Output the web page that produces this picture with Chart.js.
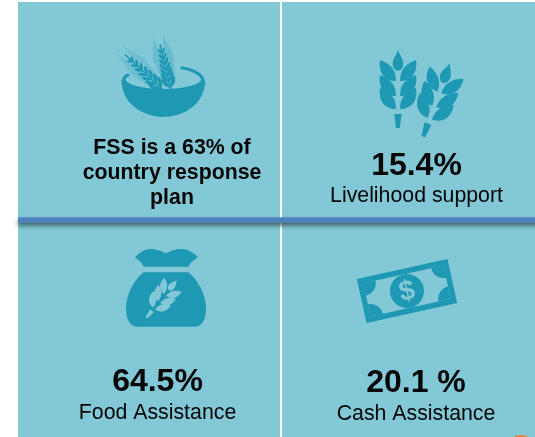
<!DOCTYPE html>
<html>
<head>
<meta charset="utf-8">
<title>FSS share of country response plan</title>
<script src="https://cdn.jsdelivr.net/npm/chart.js@4"></script>
<style>
  html, body { margin: 0; padding: 0; background: #fff; overflow: hidden; height: 437px; }
  canvas { display: block; }
</style>
</head>
<body>
<canvas id="myChart" width="544" height="438"></canvas>
<script>
const columns = ['Left', 'Right'];
const rows = ['Top', 'Bottom'];

const cardColumns = ['Left', 'Right', 'Left', 'Right'];
const cardRows = ['Top', 'Top', 'Bottom', 'Bottom'];
const shareValues = [63, 15.4, 64.5, 20.1];
const shareLabels = ['FSS is a 63% of', '15.4%', '64.5%', '20.1 %'];
const captions = ['country response|plan', 'Livelihood support', 'Food Assistance', 'Cash Assistance'];

const PANEL = '#82c8d7';
const ICON = '#1f98b3';
const FONT = '"Liberation Sans", Arial, sans-serif';

// ear of the plain wheat icon, tip at 0,0 pointing up
function plainEar(ctx) {
    ctx.beginPath();
    ctx.moveTo(0, 0);
    ctx.bezierCurveTo(1.5, 5, 5.5, 9, 5.3, 14);
    ctx.bezierCurveTo(5, 19, 2, 20.7, 0, 20.7);
    ctx.bezierCurveTo(-2, 20.7, -5, 19, -5.3, 14);
    ctx.bezierCurveTo(-5.5, 9, -1.5, 5, 0, 0);
    ctx.fill();
    for (const dy of [0, 15, 28]) {
        for (const side of [-1, 1]) {
            ctx.beginPath();
            ctx.moveTo(side * 18, 10 + dy);
            ctx.bezierCurveTo(side * 20, 23 + dy, side * 13, 31 + dy, side * 2.2, 31 + dy);
            ctx.bezierCurveTo(side * 1.5, 18 + dy, side * 11, 12.5 + dy, side * 18, 10 + dy);
            ctx.fill();
        }
    }
    ctx.beginPath();
    ctx.moveTo(-3.8, 64);
    ctx.lineTo(3.6, 64);
    ctx.lineTo(1.8, 78);
    ctx.lineTo(-2, 78);
    ctx.closePath();
    ctx.fill();
}

// ear of the bowl icon: slim kernels along an axis plus thin awns
function awnEar(ctx, x0, y0, x1, y1, pairs) {
    const len = Math.hypot(x1 - x0, y1 - y0);
    ctx.save();
    ctx.translate(x0, y0);
    ctx.rotate(Math.atan2(x1 - x0, y0 - y1));
    for (let i = 0; i < pairs; i++) {
        const t = 2 + i * (len * 0.72) / pairs;
        const size = 1 - i / (pairs * 1.8);
        for (const side of [-1, 1]) {
            ctx.beginPath();
            ctx.moveTo(0, -t);
            ctx.quadraticCurveTo(side * 8.5 * size, -t - 4, side * 6.5 * size, -t - 12 * size);
            ctx.quadraticCurveTo(side * 0.5, -t - 7, 0, -t);
            ctx.fill();
            ctx.globalAlpha = 0.5;
            ctx.lineWidth = 0.6;
            ctx.beginPath();
            ctx.moveTo(side * 6.5 * size, -t - 12 * size);
            ctx.lineTo(side * 10 * size, -t - 34 * size);
            ctx.stroke();
            ctx.globalAlpha = 1;
        }
    }
    ctx.fillRect(-0.8, -len * 0.85, 1.6, len * 0.85);
    ctx.restore();
}

function bowlIcon(ctx) {
    ctx.fillStyle = ICON;
    ctx.strokeStyle = ICON;
    awnEar(ctx, 163, 90, 118, 48, 7);
    awnEar(ctx, 171, 90, 158, 36, 7);
    ctx.lineWidth = 3;
    ctx.lineCap = 'round';
    ctx.beginPath();
    ctx.moveTo(182, 68);
    ctx.quadraticCurveTo(203, 71, 204, 84);
    ctx.stroke();
    ctx.beginPath();
    ctx.moveTo(128, 75);
    ctx.quadraticCurveTo(122.5, 77, 123, 84);
    ctx.stroke();
    ctx.beginPath();
    ctx.ellipse(163.4, 82, 41.6, 35, 0, 0, Math.PI);
    ctx.ellipse(163.4, 79, 38, 10, 0, Math.PI, 0, true);
    ctx.closePath();
    ctx.fill();
}

function wheatIcon(ctx) {
    ctx.fillStyle = ICON;
    ctx.save();
    ctx.translate(398, 50);
    plainEar(ctx);
    ctx.restore();
    ctx.save();
    ctx.translate(450, 63.3);
    ctx.rotate(20 * Math.PI / 180);
    plainEar(ctx);
    ctx.restore();
}

function bagIcon(ctx) {
    ctx.fillStyle = ICON;
    ctx.beginPath();
    ctx.moveTo(135, 257.5);
    ctx.quadraticCurveTo(142, 249, 151, 249);
    ctx.quadraticCurveTo(158, 249, 165.7, 253.5);
    ctx.quadraticCurveTo(173, 249, 181, 249);
    ctx.quadraticCurveTo(191, 249, 198, 257.5);
    ctx.quadraticCurveTo(191, 261, 188.5, 266.7);
    ctx.lineTo(143.5, 266.7);
    ctx.quadraticCurveTo(141, 261, 135, 257.5);
    ctx.fill();
    ctx.beginPath();
    ctx.moveTo(143.5, 272.3);
    ctx.lineTo(188.5, 272.3);
    ctx.bezierCurveTo(198, 280, 206, 295, 206, 308);
    ctx.bezierCurveTo(206, 320, 202, 326.7, 194, 326.7);
    ctx.lineTo(138, 326.7);
    ctx.bezierCurveTo(130, 326.7, 126, 320, 126, 308);
    ctx.bezierCurveTo(126, 295, 134, 280, 143.5, 272.3);
    ctx.fill();
    ctx.fillStyle = PANEL;
    ctx.save();
    ctx.translate(177, 280);
    ctx.rotate(39 * Math.PI / 180);
    ctx.scale(0.62, 0.62);
    plainEar(ctx);
    ctx.restore();
}

function moneyIcon(ctx) {
    ctx.save();
    ctx.translate(407, 291);
    ctx.rotate(-12.4 * Math.PI / 180);
    ctx.fillStyle = ICON;
    ctx.fillRect(-46.4, -22.5, 92.8, 45);
    ctx.fillStyle = PANEL;
    ctx.fillRect(-41, -17, 82, 34);
    ctx.save();
    ctx.beginPath();
    ctx.rect(-41, -17, 82, 34);
    ctx.clip();
    ctx.fillStyle = ICON;
    for (const [cx, cy] of [[-41, -17], [41, -17], [-41, 17], [41, 17]]) {
        ctx.beginPath();
        ctx.arc(cx, cy, 12.5, 0, Math.PI * 2);
        ctx.fill();
    }
    ctx.restore();
    ctx.fillStyle = ICON;
    ctx.beginPath();
    ctx.arc(0, 0, 17, 0, Math.PI * 2);
    ctx.fill();
    ctx.fillStyle = PANEL;
    ctx.font = 'bold 28px ' + FONT;
    ctx.textAlign = 'center';
    ctx.textBaseline = 'middle';
    ctx.fillText('$', 0, 1);
    ctx.restore();
}

const icons = [bowlIcon, wheatIcon, bagIcon, moneyIcon];

const panelsPlugin = {
    id: 'panels',
    beforeDraw(chart) {
        const ctx = chart.ctx;
        const a = chart.chartArea;
        ctx.save();
        ctx.fillStyle = PANEL;
        ctx.fillRect(a.left, a.top, chart.width - a.left, chart.height - a.top);
        ctx.restore();
    },
    afterDatasetsDraw(chart) {
        const ctx = chart.ctx;
        const a = chart.chartArea;
        const divider = chart.scales.y.getPixelForValue(0.5);

        // blue band across the panels with its soft shadow
        ctx.save();
        ctx.shadowColor = 'rgba(40, 60, 60, 0.75)';
        ctx.shadowBlur = 4;
        ctx.shadowOffsetY = 3;
        ctx.fillStyle = '#4f81bd';
        ctx.fillRect(a.left, divider - 2.7, chart.width - a.left + 10, 5.4);
        ctx.restore();

        icons.forEach((icon) => {
            ctx.save();
            icon(ctx);
            ctx.restore();
        });

        // text hangs off each card's anchor point
        const points = chart.getDatasetMeta(0).data;
        const textPlace = [
            { dx: 22.5, lines: [[43, 'b21.3'], [68, 'b21.3'], [93, 'b21.3']] },
            { dx: 4, lines: [[64, 'b32'], [91, 'n21.3']] },
            { dx: 8, lines: [[62, 'b32'], [90, 'n21.3']] },
            { dx: 3.5, lines: [[63, 'b32'], [91, 'n21.3']] },
        ];
        ctx.save();
        ctx.fillStyle = '#050505';
        ctx.textAlign = 'center';
        ctx.textBaseline = 'alphabetic';
        points.forEach((pt, i) => {
            const place = textPlace[i];
            const texts = [shareLabels[i], ...captions[i].split('|')];
            texts.forEach((text, j) => {
                const [dy, f] = place.lines[j];
                const weight = f[0] === 'b' ? 'bold ' : '';
                ctx.font = weight + f.slice(1) + 'px ' + FONT;
                ctx.fillText(text, pt.x + place.dx, pt.y + dy);
            });
        });
        ctx.restore();

        // sliver of an orange badge at the bottom edge
        ctx.save();
        ctx.fillStyle = '#ed7d31';
        ctx.beginPath();
        ctx.ellipse(521, 443, 11, 8, 0, 0, Math.PI * 2);
        ctx.fill();
        ctx.restore();
    },
};

const config = {
    type: 'scatter',
    data: {
        datasets: [
            {
                label: 'Share',
                data: shareValues.map((v, i) => ({ x: cardColumns[i], y: cardRows[i], share: v })),
                pointRadius: 0,
            },
        ],
    },
    options: {
        responsive: false,
        animation: false,
        layout: {
            padding: { left: 18, right: 0, top: 2, bottom: 0 },
        },
        plugins: {
            legend: { display: false },
            title: { display: false },
            tooltip: { enabled: false },
        },
        scales: {
            x: {
                type: 'category',
                labels: columns,
                offset: true,
                afterFit: (scale) => { scale.height = 0; scale.paddingLeft = 0; scale.paddingRight = 0; },
                grid: {
                    offset: true,
                    drawTicks: false,
                    lineWidth: 2,
                    color: (c) => (c.index === 1 ? '#ffffff' : 'rgba(0,0,0,0)'),
                },
                border: { display: false },
                ticks: { display: false },
            },
            y: {
                type: 'category',
                labels: rows,
                offset: true,
                display: false,
            },
        },
    },
    plugins: [panelsPlugin],
};

const ctx = document.getElementById('myChart').getContext('2d');
const myChart = new Chart(ctx, config);
</script>
</body>
</html>
